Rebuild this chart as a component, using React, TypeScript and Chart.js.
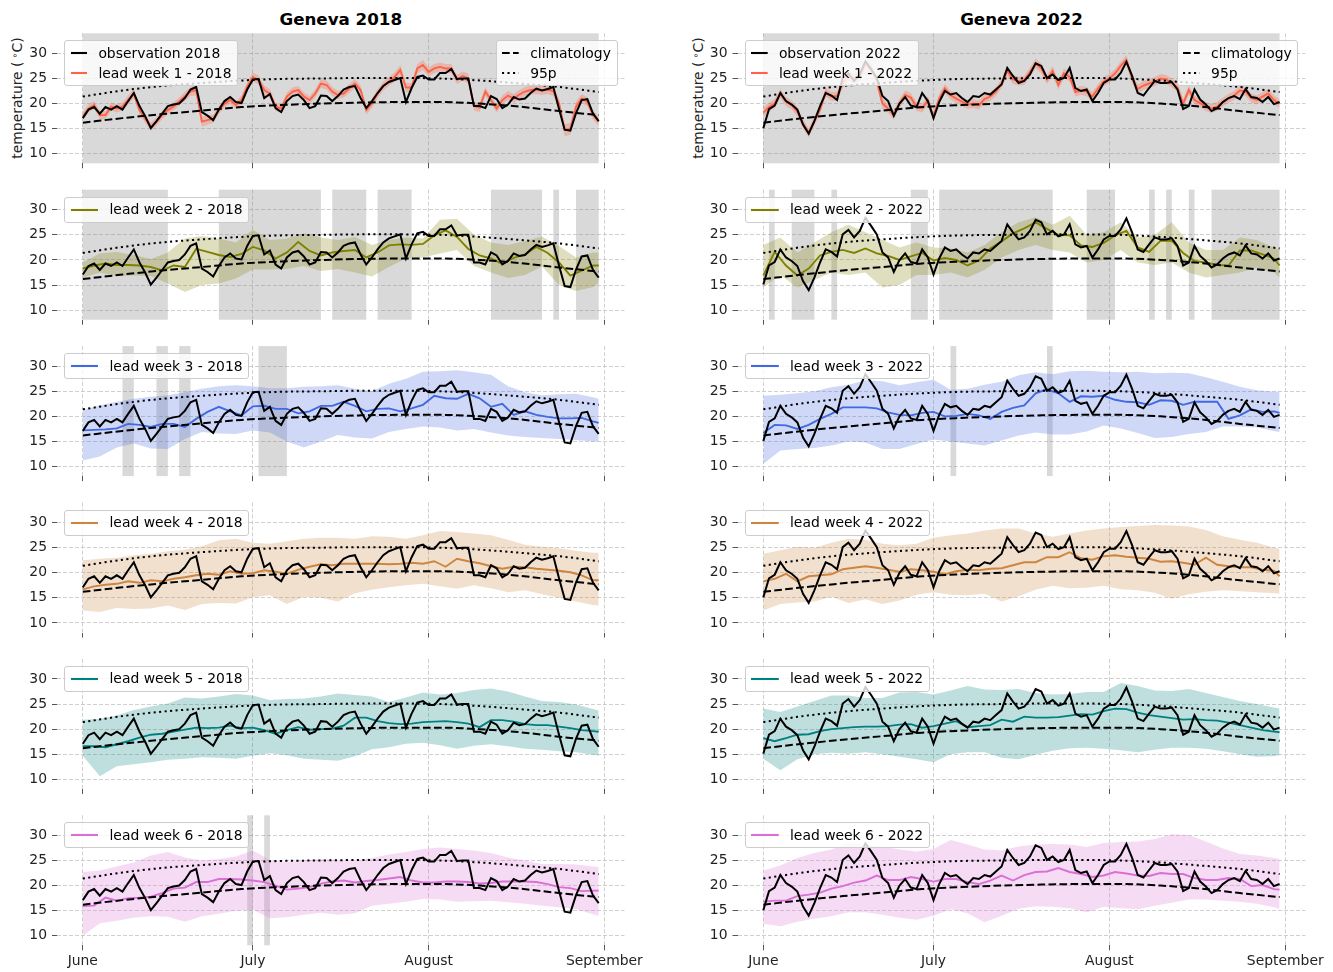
import React, { useEffect, useRef } from "react";
import { Chart, registerables } from "chart.js";

Chart.register(...registerables);
Chart.defaults.font.family = "'DejaVu Sans', sans-serif";
Chart.defaults.font.size = 13.9;
Chart.defaults.color = "#222";

// ---- axes ----
const MONTH_TICKS = [0, 30, 61, 92];
const MONTH_LABELS = ["June", "July", "August", "September"];
const Y_TICKS = [10, 15, 20, 25, 30];
const X_MIN = -4.55;
const X_MAX = 95.55;
const Y_MIN = 8.1;
const Y_MAX = 34.0;

// day offsets from June 1st
const DAYS = Array.from({ length: 92 }, (_, i) => i);
const DAYS_2 = [...Array.from({ length: 46 }, (_, i) => 2 * i), 91];
const DAYS_3 = [...Array.from({ length: 31 }, (_, i) => 3 * i), 91];
const CLIM_DAYS = [0, 7, 14, 21, 28, 35, 42, 49, 56, 63, 70, 77, 84, 91];

// ---- observations (daily mean temperature, °C) ----
const obs2018 = [
  17.1, 18.8, 19.3, 18.0, 19.3, 18.8, 19.5, 18.8, 20.5, 22.1,
  19.5, 17.5, 15.1, 16.5, 18.0, 19.5, 19.8, 20.0, 21.1, 22.8,
  23.3, 18.3, 17.6, 16.7, 18.8, 20.5, 21.3, 20.3, 20.1, 22.8,
  24.8, 24.9, 21.1, 21.9, 19.1, 18.3, 20.5, 21.5, 21.8, 20.7,
  19.1, 19.5, 21.6, 21.5, 20.5, 21.5, 22.8, 23.3, 23.5, 21.1,
  19.1, 20.5, 22.1, 23.5, 24.3, 24.7, 25.1, 20.3, 23.1, 25.3,
  25.6, 24.8, 24.8, 26.1, 26.1, 26.9, 24.9, 25.0, 25.0, 19.5,
  19.5, 19.1, 21.5, 20.9, 19.1, 19.8, 21.3, 20.8, 21.0, 22.1,
  23.0, 22.6, 22.9, 23.3, 18.9, 14.8, 14.6, 18.1, 20.7, 20.9,
  18.0, 16.5,
];
const obs2022 = [
  15.1, 18.9, 19.6, 22.1, 20.5, 19.8, 18.8, 15.8, 14.0, 16.5,
  19.5, 22.1, 21.6, 20.7, 25.1, 26.0, 24.5, 25.8, 28.4, 26.8,
  25.1, 21.5, 20.5, 17.6, 20.0, 21.3, 19.6, 19.3, 22.1, 20.5,
  17.1, 20.3, 22.5, 21.8, 22.1, 21.1, 20.3, 21.5, 21.3, 22.1,
  21.8, 22.8, 23.8, 27.1, 25.5, 24.1, 24.5, 25.8, 28.0, 27.5,
  25.1, 25.8, 24.7, 25.1, 27.1, 23.1, 22.5, 22.8, 20.5, 22.1,
  24.1, 24.8, 24.8, 26.1, 28.3, 25.5, 22.1, 21.6, 23.1, 24.5,
  24.1, 24.1, 24.3, 22.8, 18.9, 19.5, 22.8, 20.8, 19.8, 18.5,
  19.1, 20.3, 21.1, 21.5, 20.9, 22.9, 21.3, 21.1, 20.3, 21.3,
  19.9, 20.3,
];

// ---- reference curves ----
const climatology = [16.2, 17.1, 17.9, 18.6, 19.3, 19.7, 20.0, 20.2, 20.3, 20.3, 20.0, 19.4, 18.5, 17.7];
const p95 = [21.4, 22.6, 23.5, 24.1, 24.6, 24.9, 25.0, 25.1, 25.1, 25.0, 24.6, 24.0, 23.3, 22.3];

// ---- 2018 forecasts ----
const lead1_2018 = [
  17.4, 19.0, 19.7, 17.7, 17.7, 19.4, 19.0, 19.4, 20.7, 22.0,
  18.7, 17.0, 15.4, 16.4, 17.7, 18.7, 19.4, 20.4, 21.4, 22.4,
  22.7, 16.4, 16.7, 17.0, 18.7, 20.0, 20.7, 19.7, 20.7, 23.4,
  25.3, 24.7, 22.7, 22.0, 19.4, 19.0, 21.4, 22.4, 22.7, 21.4,
  20.7, 22.0, 24.0, 23.7, 22.4, 21.7, 22.0, 23.0, 24.0, 22.7,
  18.7, 20.0, 22.0, 23.5, 24.4, 25.3, 26.7, 23.2, 23.2, 27.0,
  27.7, 26.3, 27.0, 27.3, 27.0, 27.0, 24.8, 25.5, 25.0, 19.5,
  19.2, 22.4, 20.7, 19.0, 20.7, 21.6, 21.0, 21.8, 22.4, 22.7,
  22.8, 22.6, 22.8, 22.5, 20.0, 14.7, 15.0, 19.4, 21.0, 20.4,
  17.7, 16.4,
];
const lead1Lo_2018 = [
  16.7, 18.2, 18.9, 16.9, 16.9, 18.6, 18.2, 18.6, 19.8, 21.1,
  17.8, 16.2, 14.6, 15.6, 16.9, 17.9, 18.6, 19.6, 20.5, 21.5,
  21.6, 15.4, 15.8, 16.2, 17.9, 19.2, 19.9, 18.9, 19.8, 22.5,
  24.4, 23.8, 21.8, 21.1, 18.5, 18.2, 20.6, 21.6, 21.9, 20.6,
  19.9, 21.2, 23.1, 22.8, 21.5, 20.9, 21.2, 22.1, 23.1, 21.8,
  17.8, 19.1, 21.1, 22.6, 23.5, 24.4, 25.7, 22.3, 22.3, 26.0,
  26.7, 25.4, 26.1, 26.4, 26.1, 26.1, 23.9, 24.6, 24.0, 18.6,
  18.3, 21.5, 19.9, 18.2, 19.8, 20.7, 20.1, 20.9, 21.5, 21.8,
  21.9, 21.7, 21.9, 21.5, 18.9, 13.5, 13.8, 18.4, 20.1, 19.5,
  16.8, 15.5,
];
const lead1Hi_2018 = [
  18.2, 19.8, 20.5, 18.5, 18.5, 20.2, 19.8, 20.2, 21.6, 22.9,
  19.6, 17.8, 16.2, 17.2, 18.5, 19.5, 20.2, 21.2, 22.3, 23.3,
  23.8, 17.4, 17.6, 17.8, 19.5, 20.8, 21.5, 20.5, 21.6, 24.3,
  26.2, 25.6, 23.6, 22.9, 20.2, 19.8, 22.2, 23.2, 23.5, 22.2,
  21.5, 22.8, 24.9, 24.6, 23.3, 22.5, 22.8, 23.9, 24.9, 23.6,
  19.6, 20.9, 22.9, 24.4, 25.3, 26.2, 27.7, 24.1, 24.1, 27.9,
  28.7, 27.2, 27.9, 28.2, 27.9, 27.9, 25.7, 26.4, 26.0, 20.4,
  20.1, 23.3, 21.5, 19.8, 21.6, 22.5, 21.9, 22.7, 23.3, 23.6,
  23.7, 23.5, 23.7, 23.4, 21.0, 15.9, 16.2, 20.4, 21.9, 21.3,
  18.6, 17.3,
];

const lead2_2018 = [
  18.3, 18.9, 19.3, 19.0, 19.0, 18.9, 18.6, 17.9, 18.9, 18.6,
  22.2, 21.6, 21.0, 20.6, 21.2, 22.6, 21.9, 20.3, 21.5, 23.6,
  21.8, 20.9, 21.5, 21.8, 22.0, 20.5, 21.5, 22.9, 23.1, 23.0,
  23.2, 24.9, 25.9, 24.6, 22.2, 20.9, 20.3, 19.2, 20.4, 21.1,
  22.6, 21.4, 19.5, 16.9, 17.9, 18.9, 18.9,
];
const lead2Hi_2018 = [19.5, 21.3, 21.6, 21.0, 20.2, 21.5, 24.3, 24.8, 24.3, 23.5, 26.0, 24.0, 24.3, 25.3, 24.5, 24.0, 24.6, 23.0, 24.0, 24.5, 24.3, 28.0, 28.2, 25.0, 23.5, 23.0, 23.8, 24.7, 22.8, 20.5, 21.5, 21.5];
const lead2Lo_2018 = [16.5, 17.5, 16.8, 16.9, 16.8, 15.3, 13.6, 15.0, 15.3, 16.3, 18.1, 18.1, 18.2, 18.8, 17.8, 18.2, 17.5, 16.7, 18.6, 20.3, 20.5, 21.3, 22.0, 18.8, 17.5, 16.4, 17.0, 18.7, 15.0, 13.8, 14.6, 15.4];

const lead3_2018 = [
  17.2, 17.3, 17.4, 17.6, 18.5, 18.3, 17.9, 18.5, 18.5, 17.9,
  19.5, 20.9, 21.9, 21.0, 20.2, 22.0, 22.1, 21.5, 21.5, 20.6,
  21.0, 22.1, 22.1, 22.9, 22.1, 21.0, 21.5, 21.6, 21.0, 21.6,
  22.3, 24.1, 23.6, 23.5, 24.5, 23.6, 21.9, 22.5, 20.3, 21.0,
  20.3, 19.9, 19.6, 19.6, 19.7, 19.0, 18.7,
];
const lead3Hi_2018 = [21.2, 22.2, 22.9, 23.5, 23.9, 24.2, 24.8, 25.5, 26.0, 26.2, 26.0, 25.6, 25.6, 25.9, 26.0, 26.2, 25.5, 25.0, 26.5, 27.5, 28.9, 29.0, 29.2, 28.8, 28.3, 26.0, 24.8, 24.2, 24.4, 24.5, 23.8, 23.5];
const lead3Lo_2018 = [11.2, 12.0, 13.8, 14.6, 13.6, 13.5, 15.5, 16.9, 16.6, 16.5, 17.2, 16.8, 15.0, 13.8, 15.0, 16.3, 15.8, 15.6, 16.9, 17.5, 18.0, 17.8, 17.2, 17.5, 16.8, 16.2, 15.9, 15.7, 15.5, 15.3, 15.0, 15.0];

const lead4_2018 = [
  16.7, 17.3, 17.6, 17.8, 18.3, 18.0, 18.5, 18.3, 18.8, 19.1,
  19.5, 19.8, 19.6, 20.3, 19.8, 19.9, 20.5, 20.2, 19.8, 20.6,
  21.2, 21.7, 21.5, 21.8, 21.8, 21.8, 21.8, 21.7, 21.8, 22.0,
  21.8, 22.3, 21.2, 22.8, 22.3, 21.9, 21.3, 20.8, 21.2, 21.1,
  20.8, 20.6, 20.4, 20.1, 19.5, 18.5, 18.5,
];
const lead4Hi_2018 = [22.5, 22.8, 23.0, 23.5, 23.8, 24.3, 24.6, 25.3, 26.5, 26.8, 26.0, 25.8, 26.3, 26.8, 27.0, 27.0, 26.8, 27.3, 27.2, 26.8, 27.5, 28.3, 28.1, 27.8, 27.5, 26.6, 25.6, 25.2, 24.9, 24.4, 24.0, 24.0];
const lead4Lo_2018 = [12.5, 12.2, 13.0, 12.8, 12.9, 13.5, 12.6, 13.8, 14.0, 13.9, 15.1, 15.5, 13.8, 15.2, 15.0, 14.3, 15.9, 16.6, 17.1, 17.5, 17.8, 17.3, 16.8, 17.5, 16.9, 16.1, 16.5, 15.7, 15.0, 14.3, 13.6, 13.5];

const lead5_2018 = [
  16.6, 16.6, 16.4, 17.0, 17.6, 18.3, 18.9, 19.1, 19.5, 19.9,
  20.3, 20.2, 20.3, 20.7, 20.2, 20.3, 19.8, 19.1, 19.8, 20.4,
  19.9, 20.0, 20.1, 20.7, 22.3, 22.3, 21.6, 21.2, 21.0, 21.1,
  21.4, 21.5, 21.6, 21.4, 21.1, 20.4, 21.8, 21.8, 21.5, 21.0,
  20.8, 20.8, 20.5, 20.2, 19.8, 19.6, 19.5,
];
const lead5Hi_2018 = [21.9, 22.1, 22.7, 23.8, 24.5, 25.1, 26.3, 26.1, 26.5, 27.0, 26.7, 25.8, 26.0, 26.1, 26.5, 27.1, 26.8, 26.5, 25.4, 26.3, 27.3, 26.9, 27.2, 27.8, 28.1, 27.5, 26.5, 25.6, 25.4, 24.9, 24.0, 23.7];
const lead5Lo_2018 = [14.7, 10.6, 12.6, 13.0, 13.4, 13.9, 14.1, 14.4, 14.3, 14.1, 14.7, 15.2, 14.8, 14.1, 13.9, 13.7, 14.6, 16.0, 16.4, 17.1, 17.3, 16.8, 16.1, 16.7, 17.0, 16.6, 16.1, 15.9, 15.6, 15.4, 14.9, 14.7];

const lead6_2018 = [
  15.9, 16.0, 17.6, 17.0, 17.5, 17.6, 17.8, 18.5, 19.4, 19.6,
  20.7, 20.7, 21.3, 21.3, 21.2, 21.0, 20.7, 20.0, 19.2, 19.4,
  19.7, 20.4, 20.8, 21.0, 20.6, 20.9, 21.1, 21.4, 21.7, 21.0,
  20.6, 20.6, 20.8, 20.8, 20.7, 20.4, 20.5, 20.8, 20.8, 20.8,
  20.7, 20.3, 19.7, 19.5, 18.9, 19.0, 19.0,
];
const lead6Hi_2018 = [22.7, 23.0, 23.8, 24.6, 26.0, 26.7, 25.6, 25.0, 25.3, 25.8, 27.0, 25.1, 24.7, 25.0, 25.3, 25.1, 25.0, 25.5, 26.2, 26.7, 27.3, 27.6, 27.3, 27.0, 26.5, 25.6, 25.0, 24.3, 24.3, 24.2, 23.8, 23.7];
const lead6Lo_2018 = [10.0, 12.5, 13.0, 13.6, 13.9, 13.8, 12.8, 13.9, 14.4, 15.0, 15.2, 13.5, 13.7, 14.2, 14.6, 14.2, 14.5, 16.0, 16.4, 16.8, 17.3, 17.2, 16.8, 16.9, 17.0, 16.7, 16.4, 16.0, 15.7, 15.3, 14.3, 14.0];

// ---- 2022 forecasts ----
const lead1_2022 = [
  18.2, 19.3, 20.0, 22.0, 20.4, 19.7, 18.4, 16.0, 14.2, 16.5,
  18.8, 22.3, 21.4, 21.5, 24.0, 25.5, 25.0, 25.5, 27.8, 27.0,
  24.5, 20.0, 19.0, 17.7, 20.0, 21.7, 21.2, 19.4, 19.1, 20.6,
  17.4, 21.0, 23.0, 21.7, 21.0, 20.4, 19.8, 20.0, 19.7, 20.9,
  21.4, 22.4, 24.0, 26.5, 24.8, 24.5, 24.6, 26.3, 28.0, 27.0,
  24.8, 26.5, 23.7, 26.0, 25.3, 22.3, 22.6, 22.4, 21.4, 23.0,
  24.4, 25.0, 26.0, 27.5, 28.7, 25.0, 22.9, 23.6, 24.0, 24.4,
  25.0, 24.8, 24.1, 23.2, 20.0, 22.7, 20.7, 20.1, 19.4, 19.0,
  19.4, 20.3, 21.0, 21.6, 22.6, 22.4, 21.1, 20.7, 21.4, 22.0,
  20.7, 20.0,
];
const lead1Lo_2022 = [
  17.2, 18.4, 19.1, 21.1, 19.5, 18.8, 17.5, 15.1, 13.3, 15.6,
  17.9, 21.4, 20.5, 20.6, 23.0, 24.5, 24.0, 24.5, 26.8, 26.0,
  23.5, 19.0, 18.1, 16.8, 19.1, 20.8, 20.3, 18.5, 18.2, 19.7,
  16.4, 20.1, 22.1, 20.8, 20.1, 19.5, 18.9, 19.1, 18.8, 20.0,
  20.5, 21.5, 23.1, 25.5, 23.9, 23.6, 23.7, 25.4, 27.0, 26.0,
  23.9, 25.5, 22.8, 25.0, 24.4, 21.4, 21.7, 21.5, 20.5, 22.1,
  23.5, 24.1, 25.1, 26.6, 27.7, 24.0, 22.0, 22.7, 23.1, 23.5,
  24.1, 23.9, 23.2, 22.3, 19.1, 21.8, 19.8, 19.2, 18.5, 18.1,
  18.5, 19.4, 20.1, 20.7, 21.7, 21.5, 20.2, 19.8, 20.5, 21.1,
  19.8, 19.1,
];
const lead1Hi_2022 = [
  19.2, 20.2, 20.9, 22.9, 21.3, 20.6, 19.3, 16.9, 15.1, 17.4,
  19.7, 23.2, 22.3, 22.4, 25.0, 26.5, 26.0, 26.5, 28.8, 28.0,
  25.5, 21.0, 19.9, 18.6, 20.9, 22.6, 22.1, 20.3, 20.0, 21.5,
  18.4, 21.9, 23.9, 22.6, 21.9, 21.3, 20.7, 20.9, 20.6, 21.8,
  22.3, 23.3, 24.9, 27.5, 25.7, 25.4, 25.5, 27.2, 29.0, 28.0,
  25.7, 27.5, 24.6, 27.0, 26.2, 23.2, 23.5, 23.3, 22.3, 23.9,
  25.3, 25.9, 26.9, 28.4, 29.7, 26.0, 23.8, 24.5, 24.9, 25.3,
  25.9, 25.7, 25.0, 24.1, 20.9, 23.6, 21.6, 21.0, 20.3, 19.9,
  20.3, 21.2, 21.9, 22.5, 23.5, 23.3, 22.0, 21.6, 22.3, 22.9,
  21.6, 20.9,
];

const lead2_2022 = [
  16.9, 21.6, 18.9, 16.9, 18.3, 20.9, 21.6, 22.0, 21.4, 22.3,
  21.3, 20.8, 20.0, 20.7, 21.4, 19.9, 20.4, 20.0, 18.9, 19.9,
  22.3, 23.7, 25.3, 26.3, 27.5, 26.2, 25.0, 24.9, 22.9, 22.6,
  23.4, 24.9, 25.8, 22.5, 21.6, 23.8, 23.8, 21.4, 19.8, 19.5,
  19.0, 18.9, 21.9, 21.9, 21.1, 20.3, 18.9,
];
const lead2Hi_2022 = [23.0, 24.5, 21.5, 23.5, 25.5, 27.0, 25.5, 24.0, 22.5, 23.5, 22.5, 22.3, 21.5, 23.0, 25.5, 27.5, 28.5, 27.0, 28.8, 25.0, 25.5, 27.5, 24.5, 25.0, 27.5, 23.5, 22.0, 22.0, 24.5, 24.0, 22.5, 22.0];
const lead2Lo_2022 = [14.5, 17.0, 14.5, 16.0, 17.5, 17.0, 17.5, 14.5, 15.0, 17.0, 17.0, 17.5, 16.5, 18.0, 20.5, 22.0, 23.0, 22.0, 21.5, 19.5, 20.0, 22.0, 19.5, 19.0, 19.5, 17.5, 16.5, 17.0, 17.5, 18.5, 17.5, 16.5];

const lead3_2022 = [
  16.7, 18.3, 18.2, 17.5, 18.3, 19.5, 20.5, 21.8, 21.8, 21.8,
  21.6, 20.8, 20.3, 20.2, 20.7, 20.9, 20.0, 20.1, 20.5, 20.2,
  19.5, 20.9, 21.7, 22.2, 24.6, 25.4, 24.6, 22.9, 24.0, 23.9,
  24.1, 23.3, 22.9, 22.8, 22.3, 23.2, 23.1, 22.3, 22.9, 22.9,
  22.9, 19.5, 20.2, 21.4, 20.9, 21.0, 20.7,
];
const lead3Hi_2022 = [24.1, 24.3, 24.6, 25.0, 25.8, 26.3, 27.2, 27.0, 26.2, 26.8, 27.3, 25.3, 25.5, 26.3, 26.9, 28.2, 28.8, 28.4, 29.0, 29.1, 28.9, 28.8, 28.9, 28.6, 28.7, 28.6, 27.8, 26.9, 25.9, 25.2, 24.9, 24.9];
const lead3Lo_2022 = [10.5, 13.2, 13.5, 13.7, 14.2, 15.0, 14.8, 13.5, 13.5, 14.5, 15.4, 15.0, 14.6, 14.2, 15.2, 16.2, 16.8, 16.4, 16.4, 17.0, 18.2, 17.6, 16.7, 15.7, 15.9, 16.5, 16.9, 18.0, 18.0, 17.8, 17.1, 16.9];

const lead4_2022 = [
  18.3, 18.8, 19.8, 18.3, 19.3, 19.5, 19.7, 20.7, 21.0, 21.3,
  21.0, 20.6, 20.2, 20.7, 20.5, 20.2, 19.7, 20.3, 20.6, 20.5,
  20.8, 20.9, 21.5, 22.1, 22.1, 23.1, 23.1, 24.1, 22.9, 22.6,
  23.3, 23.5, 23.2, 23.0, 22.8, 22.2, 22.3, 22.0, 21.6, 23.0,
  21.6, 21.3, 21.1, 21.1, 20.6, 20.4, 19.3,
];
const lead4Hi_2022 = [23.8, 24.5, 25.2, 25.0, 26.0, 26.8, 26.6, 25.8, 25.5, 25.8, 27.0, 27.5, 27.8, 28.4, 28.8, 28.8, 27.8, 27.2, 27.8, 28.4, 28.8, 29.1, 29.3, 29.5, 29.4, 29.2, 28.5, 27.3, 26.6, 26.0, 25.0, 24.8];
const lead4Lo_2022 = [12.5, 13.8, 14.1, 14.3, 15.2, 14.0, 14.7, 13.8, 14.5, 15.6, 16.1, 15.6, 15.5, 15.8, 14.3, 15.3, 16.6, 17.4, 16.9, 17.0, 17.4, 16.7, 16.5, 16.0, 14.8, 15.7, 16.2, 16.5, 16.3, 16.1, 15.9, 15.8];

const lead5_2022 = [
  18.2, 17.6, 18.2, 18.9, 19.0, 19.6, 20.0, 20.2, 20.4, 20.5,
  20.5, 20.6, 20.9, 21.0, 20.3, 20.6, 21.1, 21.6, 20.4, 20.6,
  20.8, 21.9, 21.5, 22.5, 22.3, 22.3, 22.4, 22.7, 23.0, 22.9,
  23.6, 24.1, 24.0, 23.3, 22.8, 22.5, 22.2, 21.9, 22.0, 21.8,
  21.7, 21.3, 20.8, 20.3, 19.8, 19.5, 19.4,
];
const lead5Hi_2022 = [24.1, 23.4, 24.5, 25.6, 26.7, 26.7, 26.2, 26.2, 27.3, 27.4, 26.9, 27.7, 28.6, 27.9, 27.8, 28.0, 27.2, 26.9, 27.0, 27.4, 27.4, 29.2, 28.6, 27.7, 27.6, 28.0, 27.2, 26.4, 25.6, 25.0, 24.3, 24.1];
const lead5Lo_2022 = [14.1, 11.8, 14.0, 15.0, 15.3, 15.1, 15.4, 15.0, 14.5, 14.0, 13.4, 15.0, 15.4, 15.4, 14.3, 14.0, 14.9, 15.7, 16.2, 16.3, 16.1, 15.8, 15.4, 15.9, 16.3, 16.3, 16.1, 15.6, 15.0, 14.5, 14.6, 14.8];

const lead6_2022 = [
  16.8, 17.0, 17.0, 17.9, 18.2, 18.6, 19.4, 19.9, 20.6, 21.0,
  22.0, 21.1, 21.1, 21.7, 21.3, 20.8, 21.3, 21.3, 20.7, 20.3,
  21.0, 22.0, 21.0, 22.1, 22.7, 22.8, 23.5, 22.7, 22.3, 21.7,
  22.0, 22.7, 22.4, 22.0, 21.9, 22.5, 22.3, 22.3, 21.5, 21.1,
  21.1, 21.5, 21.3, 19.9, 20.1, 19.3, 19.2,
];
const lead6Hi_2022 = [23.0, 24.0, 25.5, 26.5, 27.2, 28.6, 28.1, 27.8, 27.2, 26.8, 27.3, 29.1, 28.2, 27.2, 27.0, 27.8, 28.2, 28.3, 28.2, 27.7, 28.5, 28.7, 28.8, 29.3, 30.2, 30.1, 28.8, 27.4, 26.3, 26.0, 25.5, 25.3];
const lead6Lo_2022 = [12.4, 11.9, 12.8, 13.4, 13.9, 14.7, 14.7, 14.2, 13.6, 13.2, 14.0, 15.3, 14.5, 12.7, 14.0, 15.4, 15.9, 15.8, 15.5, 14.7, 15.8, 15.5, 15.3, 16.0, 16.6, 17.2, 17.2, 17.0, 16.8, 16.4, 15.7, 15.4];

// ---- shaded periods (start day, end day) per lead week ----
const spans2018 = [
  [[0, 91]],
  [[0, 15], [24, 42], [44, 50], [52, 58], [72, 81], [83, 84], [87, 91]],
  [[7, 9], [13, 15], [17, 19], [31, 36]],
  [],
  [],
  [[29, 30], [32, 33]],
];
const spans2022 = [
  [[0, 91]],
  [[1, 2], [5, 9], [12, 13], [26, 29], [31, 51], [57, 62], [68, 69], [71, 72], [75, 76], [79, 91]],
  [[33, 34], [50, 51]],
  [],
  [],
  [],
];

const LEAD_COLORS = ["#ff6347", "#808000", "#4169e1", "#cd853f", "#008080", "#da70d6"];

type Lead = { fc: number[]; fcDays: number[]; hi: number[]; lo: number[]; bandDays: number[] };

const leads2018: Lead[] = [
  { fc: lead1_2018, fcDays: DAYS, hi: lead1Hi_2018, lo: lead1Lo_2018, bandDays: DAYS },
  { fc: lead2_2018, fcDays: DAYS_2, hi: lead2Hi_2018, lo: lead2Lo_2018, bandDays: DAYS_3 },
  { fc: lead3_2018, fcDays: DAYS_2, hi: lead3Hi_2018, lo: lead3Lo_2018, bandDays: DAYS_3 },
  { fc: lead4_2018, fcDays: DAYS_2, hi: lead4Hi_2018, lo: lead4Lo_2018, bandDays: DAYS_3 },
  { fc: lead5_2018, fcDays: DAYS_2, hi: lead5Hi_2018, lo: lead5Lo_2018, bandDays: DAYS_3 },
  { fc: lead6_2018, fcDays: DAYS_2, hi: lead6Hi_2018, lo: lead6Lo_2018, bandDays: DAYS_3 },
];
const leads2022: Lead[] = [
  { fc: lead1_2022, fcDays: DAYS, hi: lead1Hi_2022, lo: lead1Lo_2022, bandDays: DAYS },
  { fc: lead2_2022, fcDays: DAYS_2, hi: lead2Hi_2022, lo: lead2Lo_2022, bandDays: DAYS_3 },
  { fc: lead3_2022, fcDays: DAYS_2, hi: lead3Hi_2022, lo: lead3Lo_2022, bandDays: DAYS_3 },
  { fc: lead4_2022, fcDays: DAYS_2, hi: lead4Hi_2022, lo: lead4Lo_2022, bandDays: DAYS_3 },
  { fc: lead5_2022, fcDays: DAYS_2, hi: lead5Hi_2022, lo: lead5Lo_2022, bandDays: DAYS_3 },
  { fc: lead6_2022, fcDays: DAYS_2, hi: lead6Hi_2022, lo: lead6Lo_2022, bandDays: DAYS_3 },
];

// ---- layout ----
const FONT = "'DejaVu Sans', sans-serif";
const AXES_TOP0 = 33.3;
const ROW_PITCH = 156.4;
const AXES_H = 130;
const COLUMNS = [
  { year: "2018", canvasLeft: 0, canvasWidth: 660, axesLeft: 57, axesRight: 624.5, obs: obs2018, leads: leads2018, spans: spans2018 },
  { year: "2022", canvasLeft: 680, canvasWidth: 653, axesLeft: 737.5, axesRight: 1305.4, obs: obs2022, leads: leads2022, spans: spans2022 },
];
const GRID_COLOR = "#c4c4c4";
const TICK_COLOR = "#555";

function rgba(hex: string, a: number) {
  const n = parseInt(hex.slice(1), 16);
  return `rgba(${(n >> 16) & 255},${(n >> 8) & 255},${n & 255},${a})`;
}

const xy = (days: number[], vals: number[]) => vals.map((v, i) => ({ x: days[i], y: v }));

// shaded periods drawn beneath the datasets, across the full plot height
const spanPlugin = {
  id: "periodSpans",
  beforeDatasetsDraw(chart: any, _args: any, opts: any) {
    const { ctx, chartArea, scales } = chart;
    ctx.save();
    ctx.fillStyle = opts.color;
    for (const [a, b] of opts.spans || []) {
      const x0 = scales.x.getPixelForValue(a);
      const x1 = scales.x.getPixelForValue(b);
      ctx.fillRect(x0, chartArea.top, x1 - x0, chartArea.bottom - chartArea.top);
    }
    ctx.restore();
  },
};

function Panel({ col, row }: { col: number; row: number }) {
  const ref = useRef<HTMLCanvasElement>(null);
  const c = COLUMNS[col];
  const lead = c.leads[row];
  const color = LEAD_COLORS[row];
  const isBottom = row === 5;
  const axesTop = AXES_TOP0 + ROW_PITCH * row;
  const canvasTop = Math.floor(axesTop - 10);
  const padTop = axesTop - canvasTop;
  const xAxisH = isBottom ? 30 : 8;
  const height = Math.ceil(padTop + AXES_H + xAxisH);
  const padBottom = height - (padTop + AXES_H + xAxisH);
  const yAxisW = c.axesLeft - c.canvasLeft;
  const padRight = c.canvasWidth - (c.axesRight - c.canvasLeft);

  useEffect(() => {
    const chart = new Chart(ref.current as HTMLCanvasElement, {
      type: "line",
      data: {
        datasets: [
          { data: xy(DAYS, c.obs), borderColor: "#000", borderWidth: 2, pointRadius: 0, order: 1 },
          { data: xy(CLIM_DAYS, climatology), borderColor: "#000", borderWidth: 2, borderDash: [7.7, 3.3], cubicInterpolationMode: "monotone", pointRadius: 0, order: 2 },
          { data: xy(CLIM_DAYS, p95), borderColor: "#000", borderWidth: 2, borderDash: [2.1, 3.4], cubicInterpolationMode: "monotone", pointRadius: 0, order: 3 },
          { data: xy(lead.fcDays, lead.fc), borderColor: color, borderWidth: 1.9, pointRadius: 0, order: 4 },
          { data: xy(lead.bandDays, lead.hi), borderColor: "transparent", borderWidth: 0, pointRadius: 0, backgroundColor: rgba(color, row === 0 ? 0.3 : 0.25), fill: "+1", order: 5 },
          { data: xy(lead.bandDays, lead.lo), borderColor: "transparent", borderWidth: 0, pointRadius: 0, fill: false, order: 6 },
        ],
      } as any,
      options: {
        responsive: false,
        maintainAspectRatio: false,
        devicePixelRatio: 1,
        animation: false,
        events: [],
        layout: { padding: { left: 0, right: padRight, top: padTop, bottom: padBottom } },
        plugins: {
          legend: { display: false },
          tooltip: { enabled: false },
          periodSpans: { spans: c.spans[row], color: "rgba(128,128,128,0.3)" },
        } as any,
        scales: {
          x: {
            type: "linear",
            min: X_MIN,
            max: X_MAX,
            bounds: "data",
            afterBuildTicks: (s: any) => {
              s.ticks = MONTH_TICKS.map((v) => ({ value: v }));
            },
            afterFit: (s: any) => {
              s.height = xAxisH;
              s.paddingLeft = 0;
              s.paddingRight = 0;
            },
            ticks: {
              display: isBottom,
              autoSkip: false,
              maxRotation: 0,
              padding: 3,
              color: "#222",
              font: { family: FONT, size: 13.9 },
              callback: (_v: any, i: number) => MONTH_LABELS[i],
            },
            grid: { color: GRID_COLOR, lineWidth: 0.8, drawTicks: true, tickLength: 5, tickColor: TICK_COLOR, tickWidth: 1 },
            border: { display: false, dash: [4, 2] },
          },
          y: {
            type: "linear",
            min: Y_MIN,
            max: Y_MAX,
            bounds: "data",
            afterBuildTicks: (s: any) => {
              s.ticks = Y_TICKS.map((v) => ({ value: v }));
            },
            afterFit: (s: any) => {
              s.width = yAxisW;
              s.paddingTop = 0;
              s.paddingBottom = 0;
            },
            ticks: { padding: 5, color: "#222", font: { family: FONT, size: 13.9 } },
            grid: { color: GRID_COLOR, lineWidth: 0.8, drawTicks: true, tickLength: 5, tickColor: TICK_COLOR, tickWidth: 1 },
            border: { display: false, dash: [4, 2] },
          },
        },
      } as any,
      plugins: [spanPlugin],
    });
    return () => chart.destroy();
  }, []);

  return (
    <canvas
      ref={ref}
      width={c.canvasWidth}
      height={height}
      style={{ position: "absolute", left: c.canvasLeft, top: canvasTop, width: c.canvasWidth, height }}
    />
  );
}

type LegendItem = { label: string; color: string; dash?: string };

function LegendBox({ left, right, top, items, handle }: { left?: number; right?: number; top: number; items: LegendItem[]; handle: number }) {
  return (
    <div
      style={{
        position: "absolute",
        left,
        right,
        top,
        padding: "5.6px",
        background: "rgba(255,255,255,0.8)",
        border: "1px solid #cccccc",
        borderRadius: 3,
        fontFamily: FONT,
        fontSize: 13.9,
        lineHeight: "13px",
        color: "#000",
        zIndex: 2,
      }}
    >
      {items.map((it, i) => (
        <div key={i} style={{ display: "flex", alignItems: "center", height: 13, marginTop: i ? 7 : 0, whiteSpace: "nowrap" }}>
          <svg width={handle} height={10} style={{ marginRight: 11.1, flex: "none", display: "block" }}>
            <line x1={0} y1={5} x2={handle} y2={5} stroke={it.color} strokeWidth={2.08} strokeDasharray={it.dash} />
          </svg>
          <span>{it.label}</span>
        </div>
      ))}
    </div>
  );
}

function YLabel({ cx, cy }: { cx: number; cy: number }) {
  return (
    <div
      style={{
        position: "absolute",
        left: cx,
        top: cy,
        transform: "translate(-50%, -50%) rotate(-90deg)",
        whiteSpace: "nowrap",
        fontFamily: FONT,
        fontSize: 13.9,
        lineHeight: "16px",
        color: "#222",
      }}
    >
      temperature (<span style={{ fontSize: 9.7, verticalAlign: "0.5em", marginLeft: 3 }}>∘</span>C)
    </div>
  );
}

export default function App() {
  const rows = [0, 1, 2, 3, 4, 5];
  return (
    <div style={{ position: "absolute", left: 0, top: 0, width: 1333, height: 972, background: "#fff", overflow: "hidden" }}>
      {COLUMNS.map((c, ci) => (
        <React.Fragment key={c.year}>
          <div
            style={{
              position: "absolute",
              left: (c.axesLeft + c.axesRight) / 2,
              top: 10.9,
              transform: "translateX(-50%)",
              fontFamily: FONT,
              fontWeight: "bold",
              fontSize: 16.7,
              lineHeight: "16.7px",
              whiteSpace: "nowrap",
              color: "#000",
            }}
          >
            Geneva {c.year}
          </div>
          <YLabel cx={c.axesLeft - 41} cy={AXES_TOP0 + AXES_H / 2} />
          {rows.map((r) => (
            <Panel key={r} col={ci} row={r} />
          ))}
          {rows.map((r) => {
            const top = AXES_TOP0 + ROW_PITCH * r + 7;
            const items: LegendItem[] =
              r === 0
                ? [
                    { label: `observation ${c.year}`, color: "#000" },
                    { label: `lead week 1 - ${c.year}`, color: LEAD_COLORS[0] },
                  ]
                : [{ label: `lead week ${r + 1} - ${c.year}`, color: LEAD_COLORS[r] }];
            return <LegendBox key={"lg" + r} left={c.axesLeft + 7} top={top} items={items} handle={r === 0 ? 16.7 : 27.8} />;
          })}
          <LegendBox
            right={1333 - (c.axesRight - 7)}
            top={AXES_TOP0 + 7}
            handle={16.7}
            items={[
              { label: "climatology", color: "#000", dash: "7.7 3.3" },
              { label: "95p", color: "#000", dash: "2.1 3.4" },
            ]}
          />
        </React.Fragment>
      ))}
    </div>
  );
}
